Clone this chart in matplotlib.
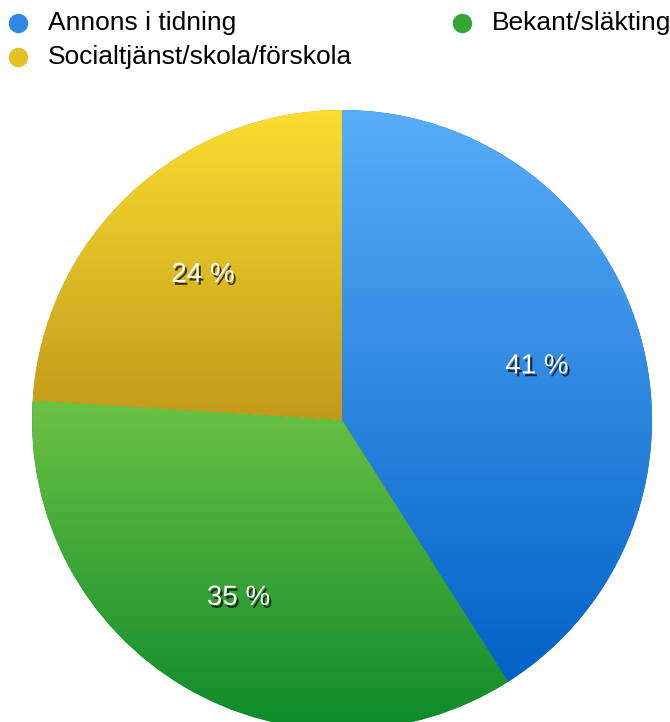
import numpy as np
import matplotlib
matplotlib.use('Agg')
import matplotlib.pyplot as plt
import matplotlib.patheffects as pe
from matplotlib.colors import LinearSegmentedColormap

plt.rcParams['font.family'] = ['Liberation Sans', 'DejaVu Sans']

# data
labels = ['Annons i tidning', 'Bekant/släkting', 'Socialtjänst/skola/förskola']
values = [41, 35, 24]
# gradient (top colour, bottom colour) per slice
grads = [('#58adf8', '#0262c6'), ('#6cc244', '#0d8a2a'), ('#f9de30', '#c29a1a')]
legend_cols = ['#2f88e2', '#35a536', '#e2c124']

W, H = 670, 722
fig = plt.figure(figsize=(W / 100, H / 100), dpi=100)
ax = fig.add_axes([0, 0, 1, 1])
R = 310.0
cx, cy = 342, 420

wedges, texts = ax.pie(values, startangle=90, counterclock=False, radius=1,
                       colors=[g[1] for g in grads],
                       wedgeprops=dict(linewidth=0))

# gradient fill clipped to each wedge
for w, (c1, c2) in zip(wedges, grads):
    cm = LinearSegmentedColormap.from_list('g', [c2, c1])
    bb = w.get_path().get_extents(w.get_patch_transform())
    grad = np.linspace(0, 1, 256).reshape(-1, 1)
    im = ax.imshow(grad, cmap=cm, origin='lower', aspect='auto',
                   extent=[bb.x0, bb.x1, bb.y0, bb.y1], zorder=2,
                   interpolation='bilinear')
    im.set_clip_path(w)
ax.set_xlim(-cx / R, (W - cx) / R)
ax.set_ylim((cy - H) / R, cy / R)
ax.set_aspect('equal')
ax.axis('off')

# percent labels
tot = float(sum(values))
ang = 90.0
for v in values:
    mid = np.deg2rad(ang - v / tot * 180)
    ang -= v / tot * 360
    ax.text(0.655 * np.cos(mid), 0.655 * np.sin(mid) - 0.01, '%d %%' % v,
            ha='center', va='center', color='white', fontsize=20, zorder=5,
            path_effects=[pe.withSimplePatchShadow(offset=(1.5, -2), shadow_rgbFace='black', alpha=0.7)])

# legend, drawn by hand (pixel positions from top-left)
leg_pos = [(18, 23), (462, 23), (18, 57)]
for (px, py), lab, col in zip(leg_pos, labels, legend_cols):
    fx, fy = px / W, 1 - py / H
    fig.add_artist(plt.Line2D([fx], [fy], marker='o', markersize=14, linestyle='none',
                              markerfacecolor=col, markeredgewidth=0,
                              transform=fig.transFigure))
    fig.text(fx + 30 / W, fy, lab, fontsize=19, va='center', ha='left')

fig.savefig('out.png', dpi=100)
